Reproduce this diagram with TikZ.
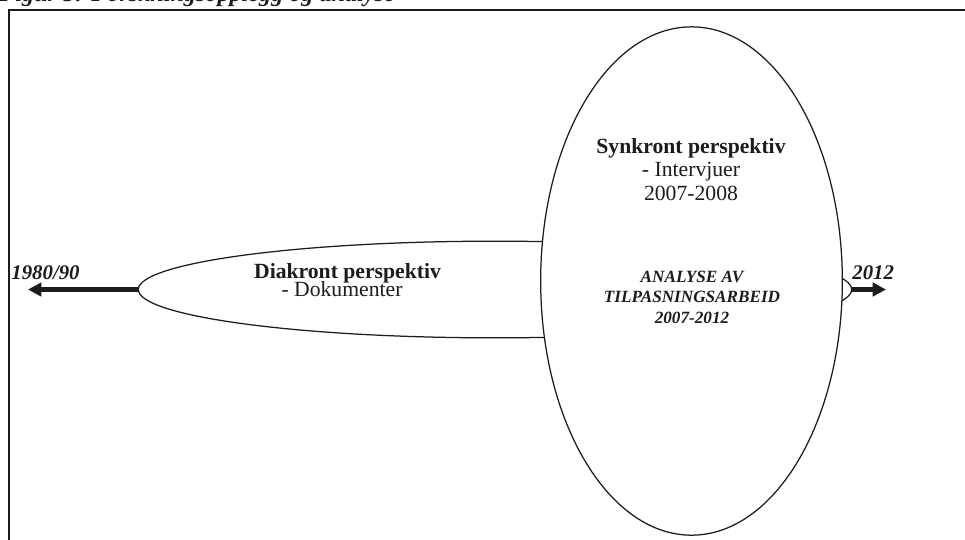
\documentclass[tikz,border=0pt]{standalone}
\usepackage{fontspec}
\setmainfont{Liberation Serif}
\usetikzlibrary{positioning,arrows.meta,shapes.geometric}
\definecolor{InkBlack}{HTML}{1C1C1C}
\newcommand{\bigtxt}{\fontsize{13}{15}\selectfont}
\newcommand{\smalltxt}{\fontsize{10.3}{12}\selectfont\bfseries\itshape}
\tikzset{
  oval/.style={ellipse,draw=InkBlack,line width=0.75pt,inner sep=0pt,outer sep=0pt},
  timearrow/.style={draw=InkBlack,line width=2.6pt,-{Triangle[length=8pt,width=8pt]}},
  txt/.style={anchor=base,inner sep=0pt,text=InkBlack},
}

\begin{document}
\begin{tikzpicture}[x=0.6pt,y=-0.6pt]
  \useasboundingbox (0,0) rectangle (965,539);
  \clip (0,0) rectangle (965,539);
  % caption and frame
  \node[txt,anchor=base west,font=\fontsize{14.5}{16}\selectfont\bfseries\itshape] (caption) at (-1,1) {Figur 5: Forskningsopplegg og analyse};
  \draw[InkBlack,line width=1.3pt] (9,560) -- (9,10) -- (990,10);
  % the two perspectives
  \node[oval,minimum width=428pt,minimum height=58pt] (diakron) at (495,289.5) {};
  \node[oval,fill=white,minimum width=181pt,minimum height=305pt] (synkron) at (691.5,281) {};
  % time line
  \coordinate (past) at (28,289.5);
  \coordinate (future) at (886,289.5);
  \draw[timearrow] (diakron.west) -- (past);
  \draw[timearrow] (diakron.east) -- (future);
  \node[txt,anchor=base west,font=\fontsize{12.5}{14}\selectfont\bfseries\itshape] (start) at (11,279) {1980/90};
  \node[txt,anchor=base west,font=\fontsize{12.5}{14}\selectfont\bfseries\itshape] (end) at (852,279) {2012};
  % texts
  \node[txt,font=\bigtxt\bfseries] (diahead) at (347.5,278) {Diakront perspektiv};
  \node[txt,font=\bigtxt] (diadoc) at (342,296.5) {- Dokumenter};
  \node[txt,font=\bigtxt\bfseries] (synhead) at (691,153) {Synkront perspektiv};
  \node[txt,font=\bigtxt] (synint) at ([yshift=-14.3pt]synhead.base) {- Intervjuer};
  \node[txt,font=\bigtxt] (synyear) at ([yshift=-14.3pt]synint.base) {2007-2008};
  \node[txt,font=\smalltxt] (ana1) at (692,282) {ANALYSE AV};
  \node[txt,font=\smalltxt] (ana2) at ([yshift=-12.4pt]ana1.base) {TILPASNINGSARBEID};
  \node[txt,font=\smalltxt] (ana3) at ([yshift=-12.4pt]ana2.base) {2007-2012};
\end{tikzpicture}
\end{document}
